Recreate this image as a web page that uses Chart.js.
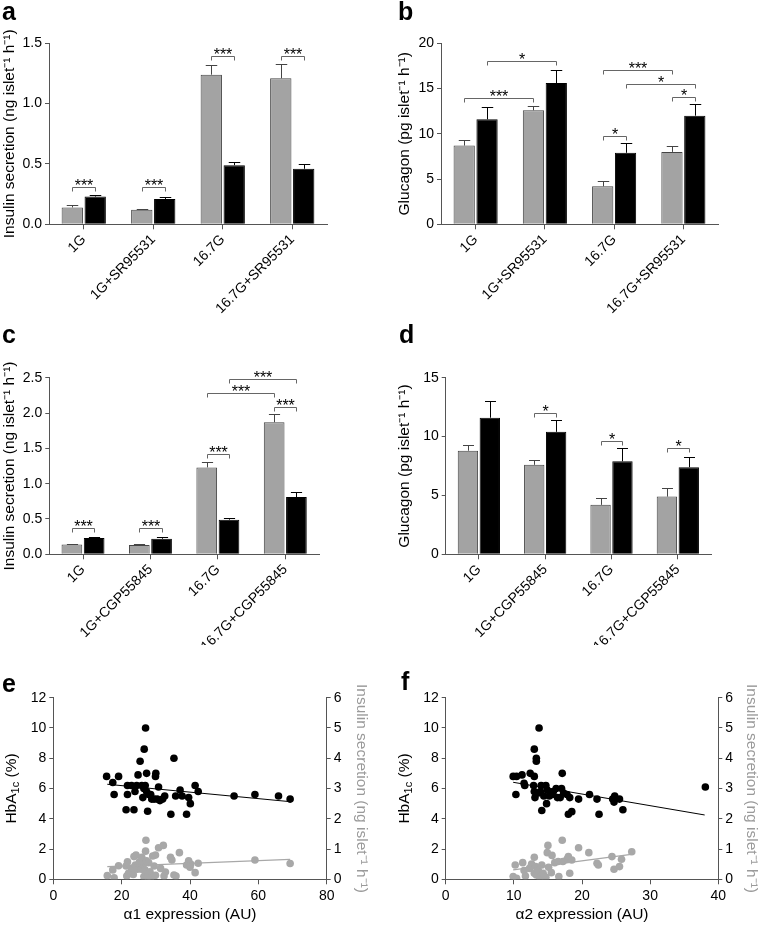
<!DOCTYPE html>
<html><head><meta charset="utf-8">
<script src="https://cdn.jsdelivr.net/npm/chart.js@4.4.1/dist/chart.umd.min.js"></script>
<style>
body{margin:0;background:#fff;width:761px;height:926px;position:relative;overflow:hidden;font-family:'Liberation Sans',Arial,sans-serif}
.p{position:absolute}
.p canvas{display:block}
.lbl{position:absolute;font-weight:bold;font-size:25px;line-height:25px;color:#000}
</style></head><body>
<div class="p" style="left:0;top:0"><canvas id="ca" width="380" height="320"></canvas></div>
<div class="p" style="left:380px;top:0"><canvas id="cb" width="381" height="320"></canvas></div>
<div class="p" style="left:0;top:300px"><canvas id="cc" width="380" height="345"></canvas></div>
<div class="p" style="left:380px;top:300px"><canvas id="cd" width="381" height="345"></canvas></div>
<div class="p" style="left:0;top:630px"><canvas id="ce" width="380" height="296"></canvas></div>
<div class="p" style="left:380px;top:630px"><canvas id="cf" width="381" height="296"></canvas></div>
<div class="lbl" style="left:2px;top:-1px">a</div>
<div class="lbl" style="left:398px;top:-1px">b</div>
<div class="lbl" style="left:2px;top:322px">c</div>
<div class="lbl" style="left:399px;top:322px">d</div>
<div class="lbl" style="left:2px;top:671px">e</div>
<div class="lbl" style="left:401px;top:669px">f</div>
<script>
// ---------- DATA ----------
const catsSR = ['1G','1G+SR95531','16.7G','16.7G+SR95531'];
const catsCGP = ['1G','1G+CGP55845','16.7G','16.7G+CGP55845'];

// panel a : insulin secretion, SR95531
const aGray = [0.14, 0.12, 1.24, 1.21];
const aGrayTop = [0.16, 0.13, 1.32, 1.33];
const aBlack = [0.23, 0.21, 0.49, 0.46];
const aBlackTop = [0.245, 0.23, 0.52, 0.50];
const aSig = [[0,0,0,1,0.31,'***'],[1,0,1,1,0.31,'***'],[2,0,2,1,1.395,'***'],[3,0,3,1,1.395,'***']];
const aTicks = [0, 0.5, 1.0, 1.5];

// panel b : glucagon, SR95531
const bGray = [8.7, 12.6, 4.2, 8.0];
const bGrayTop = [9.3, 13.1, 4.8, 8.6];
const bBlack = [11.6, 15.6, 7.9, 12.0];
const bBlackTop = [13.0, 17.0, 9.0, 13.3];
const bSig = [[0,0,1,0,14.0,'***'],[0,1,1,1,18.0,'*'],[2,0,2,1,9.76,'*'],[2,0,3,0,17.1,'***'],[2,1,3,1,15.55,'*'],[3,0,3,1,14.07,'*']];
const bTicks = [0, 5, 10, 15, 20];

// panel c : insulin secretion, CGP55845
const cGray = [0.14, 0.13, 1.23, 1.87];
const cGrayTop = [0.15, 0.14, 1.31, 1.99];
const cBlack = [0.23, 0.22, 0.49, 0.81];
const cBlackTop = [0.24, 0.24, 0.51, 0.88];
const cSig = [[0,0,0,1,0.377,'***'],[1,0,1,1,0.377,'***'],[2,0,2,1,1.42,'***'],[3,0,3,1,2.09,'***'],[2,0,3,0,2.28,'***'],[2,1,3,1,2.48,'***']];
const cTicks = [0, 0.5, 1.0, 1.5, 2.0, 2.5];

// panel d : glucagon, CGP55845
const dGray = [8.8, 7.6, 4.2, 4.9];
const dGrayTop = [9.3, 8.05, 4.8, 5.6];
const dBlack = [11.6, 10.4, 7.9, 7.4];
const dBlackTop = [13.0, 11.4, 9.0, 8.3];
const dSig = [[1,0,1,1,12.0,'*'],[2,0,2,1,9.6,'*'],[3,0,3,1,9.0,'*']];
const dTicks = [0, 5, 10, 15];

// panel e : alpha1 expression vs HbA1c (black) and insulin secretion (grey)
const eHba = [[15.6,6.8],[17.4,6.4],[17.8,5.6],[19.1,6.8],[21.3,4.6],[21.7,5.6],[21.7,6.2],[22.9,6.2],[23.6,4.6],[23.9,5.8],[24.4,6.2],[24.8,6.9],[25.4,7.8],[25.9,6.2],[26.2,5.4],[26.5,6.0],[26.6,8.6],[27.0,10.0],[26.9,6.2],[27.3,7.0],[27.3,5.8],[27.9,5.6],[27.6,4.5],[28.5,5.6],[28.8,5.3],[29.5,5.3],[29.9,6.8],[30.0,7.0],[30.4,5.3],[30.8,6.1],[31.2,5.2],[32.0,5.3],[32.6,5.5],[34.4,4.3],[35.3,8.0],[35.8,5.5],[37.1,5.9],[37.7,5.5],[39.0,4.3],[39.6,5.4],[40.1,5.0],[41.5,6.2],[42.4,5.8],[52.9,5.5],[59.0,5.6],[65.9,5.5],[69.3,5.3]];
const eHbaFit = [[15.8,6.28],[69.3,5.13]];
const eIns = [[15.8,0.12],[17.4,0.31],[17.8,0.05],[19.1,0.45],[21.3,0.44],[21.5,0.11],[21.7,0.58],[22.0,0.2],[22.9,0.37],[23.4,0.16],[23.6,0.75],[24.0,0.47],[24.2,0.8],[24.6,0.33],[25.2,0.58],[25.8,0.33],[25.9,0.73],[26.3,0.48],[26.5,0.09],[26.8,0.31],[27.1,1.29],[27.0,0.93],[27.3,0.61],[27.6,0.09],[27.9,0.55],[28.3,0.25],[28.5,0.05],[29.1,0.77],[29.5,0.44],[29.9,0.8],[29.9,0.13],[30.8,1.04],[31.4,0.36],[32.2,1.12],[32.4,0.11],[32.8,0.24],[34.3,0.73],[34.7,0.64],[35.3,0.14],[35.9,0.11],[36.9,0.88],[39.0,0.47],[39.6,0.61],[40.0,0.4],[40.2,0.5],[41.5,0.22],[42.4,0.53],[59.0,0.64],[69.3,0.52]];
const eInsFit = [[15.8,0.42],[69.3,0.66]];

// panel f : alpha2 expression
const fHba = [[9.9,6.8],[10.4,6.8],[10.3,5.6],[11.2,6.9],[11.5,6.35],[11.6,6.2],[12.4,7.0],[13.0,6.8],[12.9,6.2],[13.0,8.6],[13.3,8.0],[13.3,7.8],[13.7,10.0],[13.0,5.8],[13.1,5.4],[13.6,5.7],[14.0,6.2],[13.9,5.8],[14.1,4.55],[14.4,5.5],[14.7,6.2],[14.8,5.0],[14.9,5.9],[15.2,5.5],[15.6,5.6],[15.8,5.8],[16.2,6.0],[16.4,5.4],[17.1,7.0],[17.0,6.0],[16.8,5.4],[17.3,5.7],[17.8,5.6],[18.0,4.3],[18.2,5.4],[18.5,4.47],[19.5,5.3],[21.1,5.6],[22.2,5.3],[22.5,4.3],[24.5,5.3],[24.8,5.5],[24.7,5.1],[25.5,5.3],[26.0,4.6],[38.1,6.1]];
const fHbaFit = [[9.9,6.41],[38.0,4.25]];
const fIns = [[9.9,0.09],[10.2,0.47],[10.4,0.03],[11.3,0.55],[11.5,0.29],[11.7,0.11],[12.3,0.36],[12.6,0.5],[13.0,0.73],[13.0,0.2],[13.2,0.42],[13.3,0.14],[13.6,0.29],[13.8,0.07],[14.1,0.47],[14.3,0.2],[14.7,0.07],[15.0,1.12],[14.9,0.88],[15.1,0.4],[15.6,0.79],[15.5,0.22],[16.0,0.55],[16.5,0.59],[16.6,0.09],[17.1,1.29],[17.2,0.59],[17.8,0.66],[18.0,0.75],[18.2,0.2],[18.5,0.64],[19.5,1.04],[21.0,0.88],[22.2,0.53],[22.4,0.47],[24.4,0.75],[24.7,0.33],[25.5,0.42],[25.8,0.66],[27.3,0.91]];
const fInsFit = [[9.9,0.31],[27.5,0.83]];

// ---------- STYLE ----------
const FONT = "'Liberation Sans', Arial, Helvetica, sans-serif";
Chart.defaults.font.family = FONT;
Chart.defaults.color = '#000';
const AXIS = '#555';
const GRAY = '#a3a3a3';
const SCAT_GRAY = '#a8a8a8';
const TICK_FS = 14;
const TITLE_FS = 15.5;
const YTITLE_INS = 'Insulin secretion (ng islet\u207B\u00B9 h\u207B\u00B9)';
const YTITLE_GLU = 'Glucagon (pg islet\u207B\u00B9 h\u207B\u00B9)';

const barExtras = {
  id: 'barExtras',
  afterDatasetsDraw(chart, args, o) {
    if (!o || !o.tops) return;
    const ctx = chart.ctx, ys = chart.scales.y;
    ctx.save();
    ctx.lineWidth = 1;
    o.tops.forEach((tops, ds) => {
      const meta = chart.getDatasetMeta(ds);
      meta.data.forEach((bar, i) => {
        const yt = Math.round(ys.getPixelForValue(tops[i])) + 0.5;
        const x = Math.round(bar.x) + 0.5;
        const hw = bar.width * 0.27;
        ctx.strokeStyle = ds === 0 ? '#444' : '#000';
        ctx.beginPath();
        ctx.moveTo(x, bar.y); ctx.lineTo(x, yt);
        ctx.moveTo(x - hw, yt); ctx.lineTo(x + hw, yt);
        ctx.stroke();
      });
    });
    o.sig.forEach(s => {
      const [c1, s1, c2, s2, v, txt] = s;
      const x1 = Math.round(chart.getDatasetMeta(s1).data[c1].x) + 0.5;
      const x2 = Math.round(chart.getDatasetMeta(s2).data[c2].x) + 0.5;
      const y = Math.round(ys.getPixelForValue(v)) + 0.5;
      ctx.strokeStyle = '#666';
      ctx.beginPath();
      ctx.moveTo(x1, y + 4); ctx.lineTo(x1, y); ctx.lineTo(x2, y); ctx.lineTo(x2, y + 4);
      ctx.stroke();
      ctx.fillStyle = '#000';
      ctx.font = '16px ' + FONT;
      ctx.textAlign = 'center';
      ctx.textBaseline = 'alphabetic';
      ctx.fillText(txt, (x1 + x2) / 2, y + 3.5);
    });
    ctx.restore();
  }
};

const hbaTitle = {
  id: 'hbaTitle',
  afterDraw(chart, args, o) {
    if (!o || !o.x) return;
    const ctx = chart.ctx, ca = chart.chartArea;
    const cy = (ca.top + ca.bottom) / 2;
    ctx.save();
    ctx.translate(o.x, cy);
    ctx.rotate(-Math.PI / 2);
    ctx.fillStyle = '#000';
    ctx.textBaseline = 'middle';
    ctx.textAlign = 'left';
    const f1 = TITLE_FS + 'px ' + FONT, f2 = '11px ' + FONT;
    ctx.font = f1;
    const w1 = ctx.measureText('HbA').width, w3 = ctx.measureText(' (%)').width;
    ctx.font = f2;
    const w2 = ctx.measureText('1c').width;
    let x = -(w1 + w2 + w3) / 2;
    ctx.font = f1; ctx.fillText('HbA', x, 0); x += w1;
    ctx.font = f2; ctx.fillText('1c', x, 3.5); x += w2;
    ctx.font = f1; ctx.fillText(' (%)', x, 0);
    ctx.restore();
  }
};

function barChart(id, g, cats, gray, black, grayTop, blackTop, sig, ticks, title, dec) {
  const ymax = ticks[ticks.length - 1];
  return new Chart(document.getElementById(id), {
    type: 'bar',
    data: {
      labels: cats,
      datasets: [
        { data: gray, backgroundColor: GRAY, borderColor: '#444', borderWidth: 1, borderSkipped: 'bottom', categoryPercentage: 0.66, barPercentage: 0.93 },
        { data: black, backgroundColor: '#000', borderColor: '#000', borderWidth: 1, borderSkipped: 'bottom', categoryPercentage: 0.66, barPercentage: 0.93 }
      ]
    },
    options: {
      responsive: false, animation: false, devicePixelRatio: 1,
      layout: { padding: { top: g.top, right: g.right, left: 0, bottom: 0 } },
      plugins: { legend: { display: false }, tooltip: { enabled: false },
        barExtras: { tops: [grayTop, blackTop], sig: sig } },
      scales: {
        x: {
          offset: true,
          grid: { display: true, drawOnChartArea: false, drawTicks: true, tickLength: 5, color: AXIS, offset: false },
          border: { color: AXIS, width: 1 },
          ticks: { minRotation: 45, maxRotation: 45, autoSkip: false, color: '#000', font: { size: TICK_FS }, padding: 2 },
          afterFit(s) { s.height = g.xh; }
        },
        y: {
          min: 0, max: ymax,
          afterBuildTicks(s) { s.ticks = ticks.map(v => ({ value: v })); },
          ticks: { color: '#000', font: { size: TICK_FS }, padding: 3, callback: v => v.toFixed(dec) },
          grid: { display: true, drawOnChartArea: false, drawTicks: true, tickLength: 4, color: AXIS },
          border: { color: AXIS, width: 1 },
          title: { display: true, text: title, font: { size: TITLE_FS }, color: '#000', padding: { top: g.tp, bottom: 0 } },
          afterFit(s) { s.width = g.yw; }
        }
      }
    },
    plugins: [barExtras]
  });
}

function pts(arr) { return arr.map(p => ({ x: p[0], y: p[1] })); }

function scatterChart(id, g, xmax, xstep, hba, hbaFit, ins, insFit, xTitle) {
  return new Chart(document.getElementById(id), {
    type: 'scatter',
    data: {
      datasets: [
        { type: 'line', data: pts(hbaFit), yAxisID: 'y', borderColor: '#000', borderWidth: 1, pointRadius: 0, fill: false },
        { type: 'scatter', data: pts(hba), yAxisID: 'y', backgroundColor: '#000', borderWidth: 0, pointRadius: 3.8 },
        { type: 'line', data: pts(insFit), yAxisID: 'y2', borderColor: SCAT_GRAY, borderWidth: 1.2, pointRadius: 0, fill: false },
        { type: 'scatter', data: pts(ins), yAxisID: 'y2', backgroundColor: SCAT_GRAY, borderWidth: 0, pointRadius: 3.8 }
      ]
    },
    options: {
      responsive: false, animation: false, devicePixelRatio: 1,
      layout: { padding: { top: g.top, right: 0, left: 0, bottom: 0 } },
      plugins: { legend: { display: false }, tooltip: { enabled: false }, hbaTitle: { x: g.htx } },
      scales: {
        x: {
          type: 'linear', min: 0, max: xmax,
          ticks: { stepSize: xstep, color: '#000', font: { size: TICK_FS }, padding: 3 },
          grid: { display: true, drawOnChartArea: false, tickLength: 5, color: AXIS },
          border: { color: AXIS, width: 1 },
          title: { display: true, text: xTitle, font: { size: TITLE_FS }, color: '#000', padding: { top: 0, bottom: 1.7 } },
          afterFit(s) { s.height = g.xh; }
        },
        y: {
          position: 'left', min: 0, max: 12,
          ticks: { stepSize: 2, color: '#000', font: { size: TICK_FS }, padding: 3 },
          grid: { display: true, drawOnChartArea: false, tickLength: 4, color: AXIS },
          border: { color: AXIS, width: 1 },
          afterFit(s) { s.width = g.yw; }
        },
        y2: {
          position: 'right', min: 0, max: 6,
          ticks: { stepSize: 1, color: '#000', font: { size: TICK_FS }, padding: 3 },
          grid: { display: true, drawOnChartArea: false, tickLength: 4, color: AXIS },
          border: { color: AXIS, width: 1 },
          title: { display: true, text: YTITLE_INS, font: { size: TITLE_FS }, color: '#9a9a9a', padding: { top: g.y2p, bottom: 0 } },
          afterFit(s) { s.width = g.y2w; }
        }
      }
    },
    plugins: [hbaTitle]
  });
}

barChart('ca', { top: 43.3, right: 53, yw: 49, xh: 95.7, tp: 0 }, catsSR, aGray, aBlack, aGrayTop, aBlackTop, aSig, aTicks, YTITLE_INS, 1);
barChart('cb', { top: 43.3, right: 43, yw: 61, xh: 95.7, tp: 15.7 }, catsSR, bGray, bBlack, bGrayTop, bBlackTop, bSig, bTicks, YTITLE_GLU, 0);
barChart('cc', { top: 77.7, right: 61, yw: 49.3, xh: 90.7, tp: 0 }, catsCGP, cGray, cBlack, cGrayTop, cBlackTop, cSig, cTicks, YTITLE_INS, 1);
barChart('cd', { top: 77.7, right: 50, yw: 65.7, xh: 90.7, tp: 15.7 }, catsCGP, dGray, dBlack, dGrayTop, dBlackTop, dSig, dTicks, YTITLE_GLU, 0);
scatterChart('ce', { top: 67.7, yw: 53.3, y2w: 53.3, xh: 46.7, htx: 12, y2p: 9.7 }, 80, 20, eHba, eHbaFit, eIns, eInsFit, '\u03B11 expression (AU)');
scatterChart('cf', { top: 67.7, yw: 65.7, y2w: 42.7, xh: 46.7, htx: 25, y2p: 0 }, 40, 10, fHba, fHbaFit, fIns, fInsFit, '\u03B12 expression (AU)');
</script>
</body></html>
